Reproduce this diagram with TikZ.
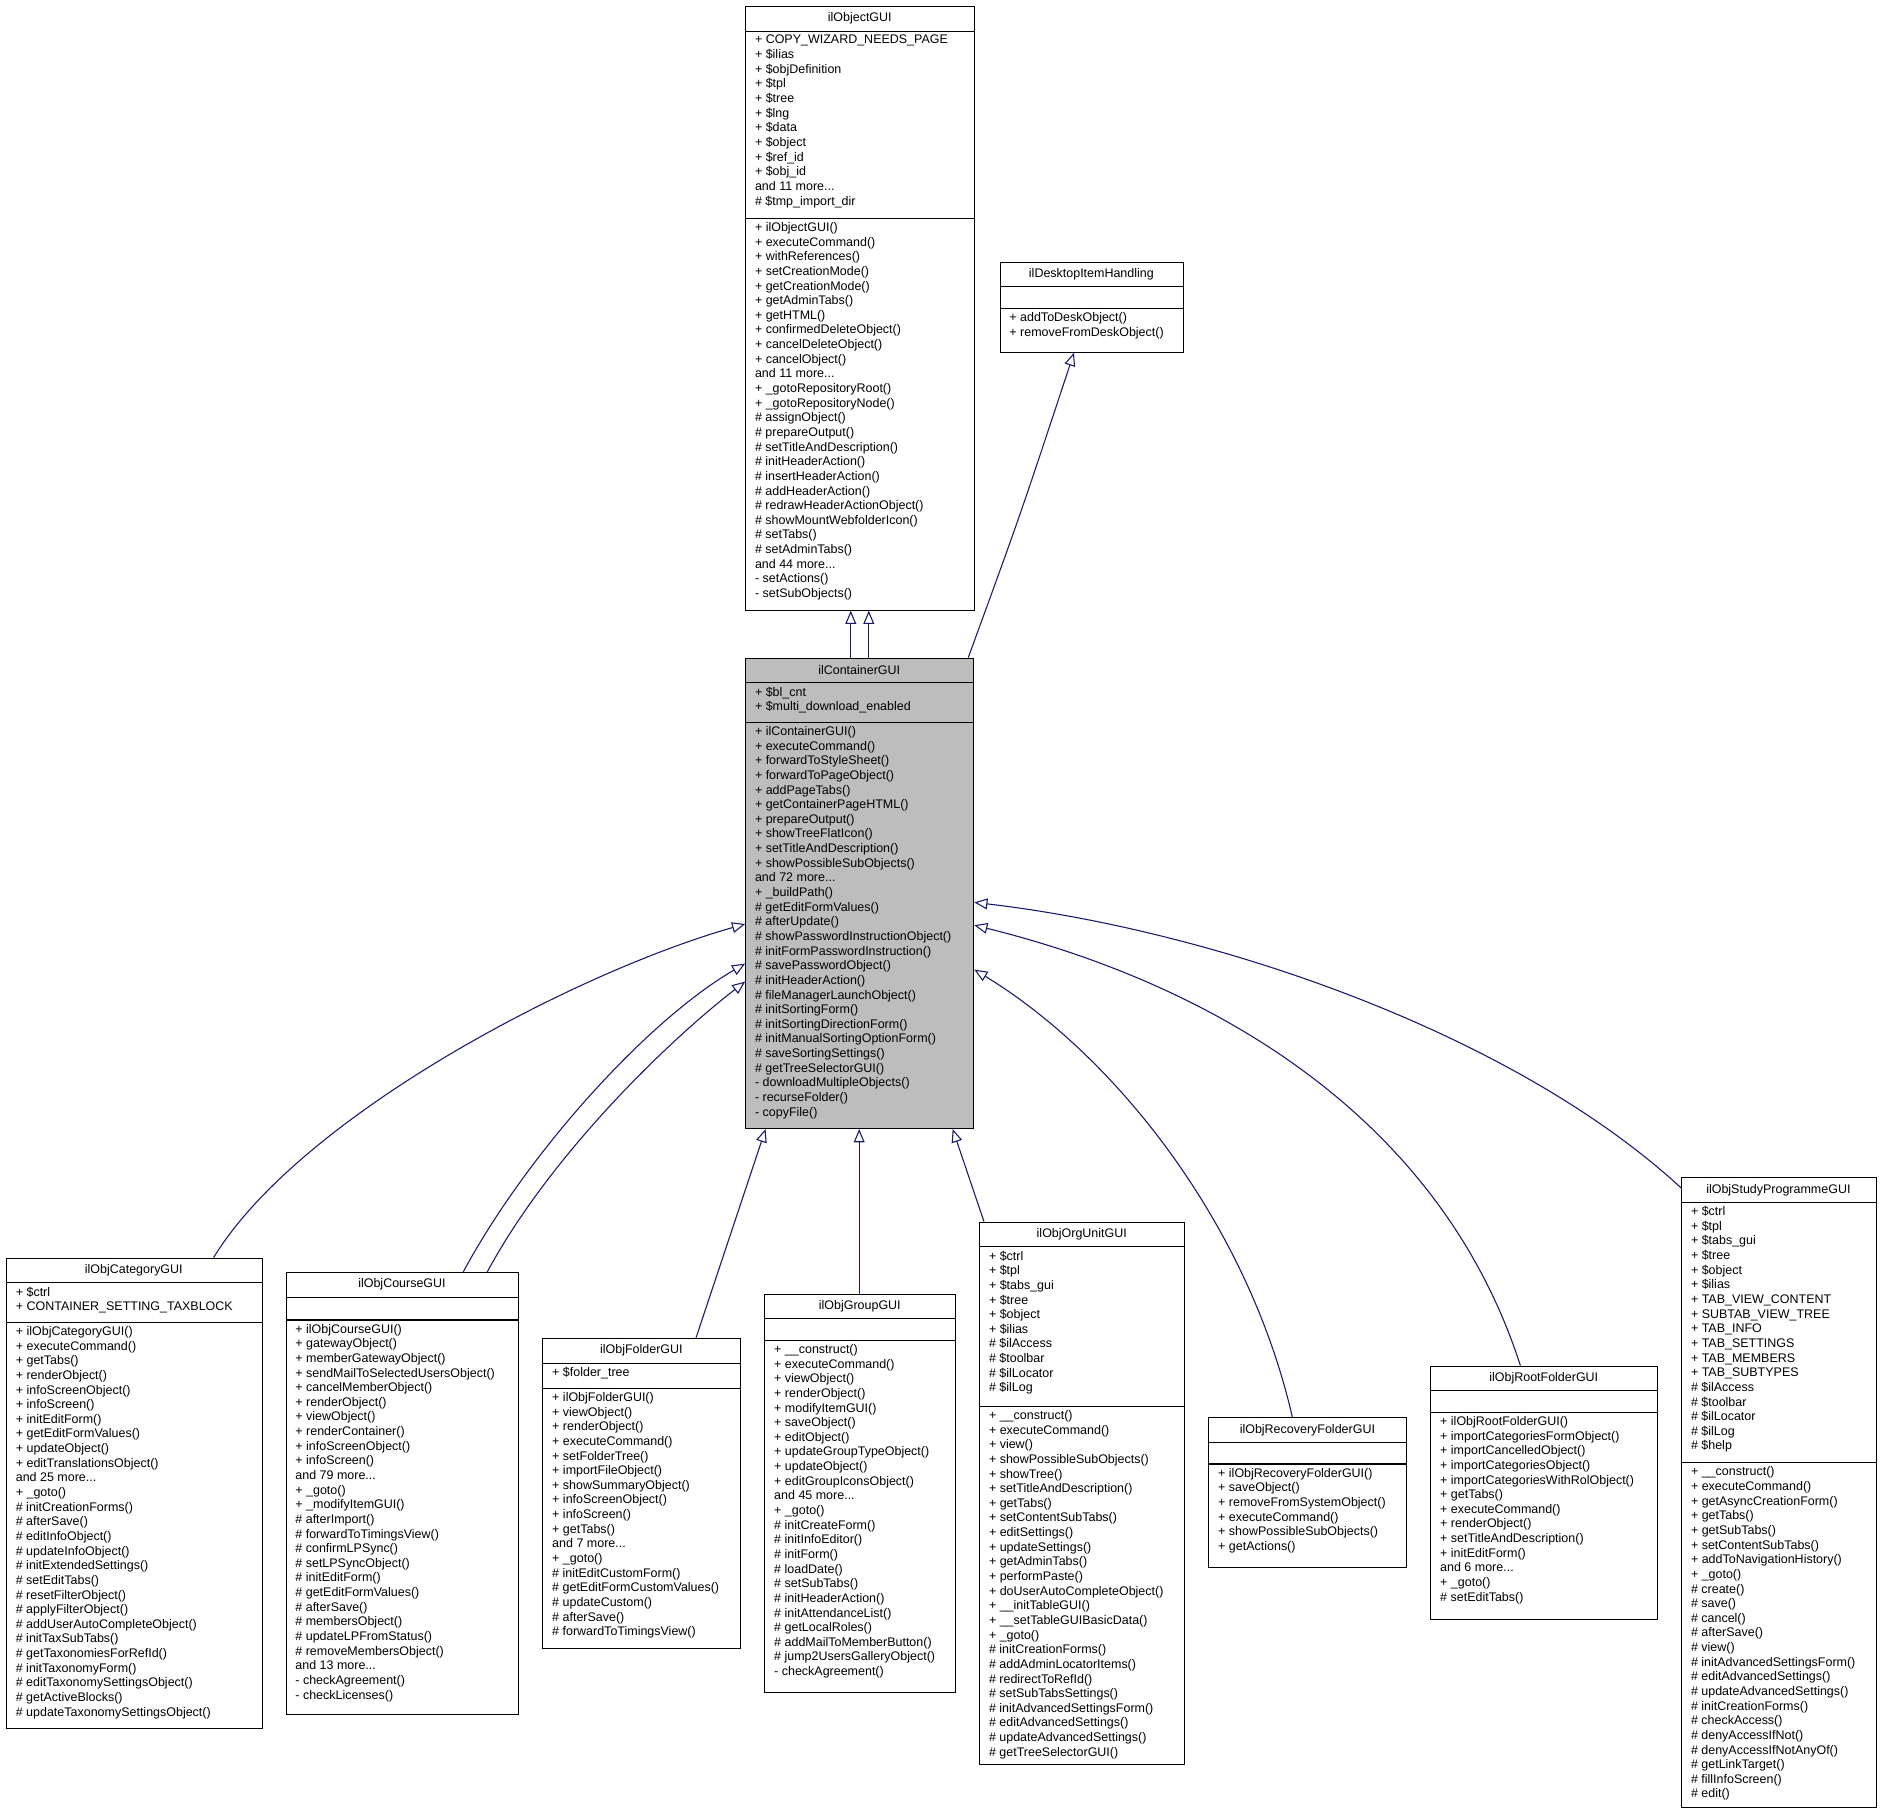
\documentclass[tikz,border=0pt]{standalone}
\usepackage{fontspec}
\setmainfont{Liberation Sans}
\usetikzlibrary{arrows.meta}
\definecolor{edgeblue}{HTML}{191970}
\newcommand{\boxfill}{white}
% #1 name, #2 x1, #3 y1, #4 x2, #5 y2, #6 attr bottom, #7 title, #8 attrs, #9 methods
\newcommand{\classbox}[9]{%
  \node[classframe, fill=\boxfill, anchor=north west, minimum width={(#4-#2)*1pt},
        minimum height={(#5-#3)*1pt}] (#1) at (#2,#3) {};
  \node[classtitle] (#1title) at ({(#2+#4)/2},{#3+10.5}) {#7};
  \draw[classline] (#2,{#3+21}) -- (#4,{#3+21});
  \draw[classline] (#2,#6) -- (#4,#6);
  \node[classtext] (#1attr) at (#2,{#3+21}) {#8};
  \node[classtext] (#1meth) at (#2,#6) {#9};
}
\tikzset{
  classframe/.style={draw, line width=0.9pt, inner sep=0pt},
  classline/.style={line width=0.9pt},
  classtitle/.style={inner sep=0pt, font=\fontsize{10.4}{12.2}\selectfont},
  classtext/.style={anchor=north west, align=left, inner xsep=8pt, inner ysep=3.2pt,
    font=\fontsize{10.4}{12.2}\selectfont},
  inherit/.style={draw=edgeblue, line width=0.9pt,
    -{Triangle[open, length=11pt, width=9pt, fill=white]}}
}
\begin{document}
\begin{tikzpicture}[x=1pt, y=-1pt]
  \useasboundingbox (0,0) rectangle (1571.7,1516.7);
  \classbox{objgui}{621}{5}{812}{508}{182}{ilObjectGUI}
    {+ COPY\_WIZARD\_NEEDS\_PAGE\\+ \$ilias\\+ \$objDefinition\\+ \$tpl\\+ \$tree\\+ \$lng\\+ \$data\\+ \$object\\+ \$ref\_id\\+ \$obj\_id\\and 11 more...\\\# \$tmp\_import\_dir}
    {+ ilObjectGUI()\\+ executeCommand()\\+ withReferences()\\+ setCreationMode()\\+ getCreationMode()\\+ getAdminTabs()\\+ getHTML()\\+ confirmedDeleteObject()\\+ cancelDeleteObject()\\+ cancelObject()\\and 11 more...\\+ \_gotoRepositoryRoot()\\+ \_gotoRepositoryNode()\\\# assignObject()\\\# prepareOutput()\\\# setTitleAndDescription()\\\# initHeaderAction()\\\# insertHeaderAction()\\\# addHeaderAction()\\\# redrawHeaderActionObject()\\\# showMountWebfolderIcon()\\\# setTabs()\\\# setAdminTabs()\\and 44 more...\\- setActions()\\- setSubObjects()}
  \classbox{desk}{833}{218}{986}{293}{257}{ilDesktopItemHandling}
    {}
    {+ addToDeskObject()\\+ removeFromDeskObject()}
  \renewcommand{\boxfill}{black!26}
  \classbox{cont}{621}{548}{811}{940}{602}{ilContainerGUI}
    {+ \$bl\_cnt\\+ \$multi\_download\_enabled}
    {+ ilContainerGUI()\\+ executeCommand()\\+ forwardToStyleSheet()\\+ forwardToPageObject()\\+ addPageTabs()\\+ getContainerPageHTML()\\+ prepareOutput()\\+ showTreeFlatIcon()\\+ setTitleAndDescription()\\+ showPossibleSubObjects()\\and 72 more...\\+ \_buildPath()\\\# getEditFormValues()\\\# afterUpdate()\\\# showPasswordInstructionObject()\\\# initFormPasswordInstruction()\\\# savePasswordObject()\\\# initHeaderAction()\\\# fileManagerLaunchObject()\\\# initSortingForm()\\\# initSortingDirectionForm()\\\# initManualSortingOptionForm()\\\# saveSortingSettings()\\\# getTreeSelectorGUI()\\- downloadMultipleObjects()\\- recurseFolder()\\- copyFile()}
  \renewcommand{\boxfill}{white}
  \classbox{cat}{5}{1048}{218}{1440}{1102}{ilObjCategoryGUI}
    {+ \$ctrl\\+ CONTAINER\_SETTING\_TAXBLOCK}
    {+ ilObjCategoryGUI()\\+ executeCommand()\\+ getTabs()\\+ renderObject()\\+ infoScreenObject()\\+ infoScreen()\\+ initEditForm()\\+ getEditFormValues()\\+ updateObject()\\+ editTranslationsObject()\\and 25 more...\\+ \_goto()\\\# initCreationForms()\\\# afterSave()\\\# editInfoObject()\\\# updateInfoObject()\\\# initExtendedSettings()\\\# setEditTabs()\\\# resetFilterObject()\\\# applyFilterObject()\\\# addUserAutoCompleteObject()\\\# initTaxSubTabs()\\\# getTaxonomiesForRefId()\\\# initTaxonomyForm()\\\# editTaxonomySettingsObject()\\\# getActiveBlocks()\\\# updateTaxonomySettingsObject()}
  \classbox{course}{238}{1060}{432}{1428}{1100}{ilObjCourseGUI}
    {}
    {+ ilObjCourseGUI()\\+ gatewayObject()\\+ memberGatewayObject()\\+ sendMailToSelectedUsersObject()\\+ cancelMemberObject()\\+ renderObject()\\+ viewObject()\\+ renderContainer()\\+ infoScreenObject()\\+ infoScreen()\\and 79 more...\\+ \_goto()\\+ \_modifyItemGUI()\\\# afterImport()\\\# forwardToTimingsView()\\\# confirmLPSync()\\\# setLPSyncObject()\\\# initEditForm()\\\# getEditFormValues()\\\# afterSave()\\\# membersObject()\\\# updateLPFromStatus()\\\# removeMembersObject()\\and 13 more...\\- checkAgreement()\\- checkLicenses()}
  \classbox{folder}{452}{1115}{617}{1373}{1157}{ilObjFolderGUI}
    {+ \$folder\_tree}
    {+ ilObjFolderGUI()\\+ viewObject()\\+ renderObject()\\+ executeCommand()\\+ setFolderTree()\\+ importFileObject()\\+ showSummaryObject()\\+ infoScreenObject()\\+ infoScreen()\\+ getTabs()\\and 7 more...\\+ \_goto()\\\# initEditCustomForm()\\\# getEditFormCustomValues()\\\# updateCustom()\\\# afterSave()\\\# forwardToTimingsView()}
  \classbox{group}{637}{1078}{796}{1410}{1117}{ilObjGroupGUI}
    {}
    {+ \_\_construct()\\+ executeCommand()\\+ viewObject()\\+ renderObject()\\+ modifyItemGUI()\\+ saveObject()\\+ editObject()\\+ updateGroupTypeObject()\\+ updateObject()\\+ editGroupIconsObject()\\and 45 more...\\+ \_goto()\\\# initCreateForm()\\\# initInfoEditor()\\\# initForm()\\\# loadDate()\\\# setSubTabs()\\\# initHeaderAction()\\\# initAttendanceList()\\\# getLocalRoles()\\\# addMailToMemberButton()\\\# jump2UsersGalleryObject()\\- checkAgreement()}
  \classbox{orgunit}{816}{1018}{987}{1470}{1172}{ilObjOrgUnitGUI}
    {+ \$ctrl\\+ \$tpl\\+ \$tabs\_gui\\+ \$tree\\+ \$object\\+ \$ilias\\\# \$ilAccess\\\# \$toolbar\\\# \$ilLocator\\\# \$ilLog}
    {+ \_\_construct()\\+ executeCommand()\\+ view()\\+ showPossibleSubObjects()\\+ showTree()\\+ setTitleAndDescription()\\+ getTabs()\\+ setContentSubTabs()\\+ editSettings()\\+ updateSettings()\\+ getAdminTabs()\\+ performPaste()\\+ doUserAutoCompleteObject()\\+ \_\_initTableGUI()\\+ \_\_setTableGUIBasicData()\\+ \_goto()\\\# initCreationForms()\\\# addAdminLocatorItems()\\\# redirectToRefId()\\\# setSubTabsSettings()\\\# initAdvancedSettingsForm()\\\# editAdvancedSettings()\\\# updateAdvancedSettings()\\\# getTreeSelectorGUI()}
  \classbox{recovery}{1007}{1181}{1172}{1306}{1220}{ilObjRecoveryFolderGUI}
    {}
    {+ ilObjRecoveryFolderGUI()\\+ saveObject()\\+ removeFromSystemObject()\\+ executeCommand()\\+ showPossibleSubObjects()\\+ getActions()}
  \classbox{root}{1192}{1138}{1381}{1349}{1177}{ilObjRootFolderGUI}
    {}
    {+ ilObjRootFolderGUI()\\+ importCategoriesFormObject()\\+ importCancelledObject()\\+ importCategoriesObject()\\+ importCategoriesWithRolObject()\\+ getTabs()\\+ executeCommand()\\+ renderObject()\\+ setTitleAndDescription()\\+ initEditForm()\\and 6 more...\\+ \_goto()\\\# setEditTabs()}
  \classbox{study}{1401}{981}{1563}{1506}{1219}{ilObjStudyProgrammeGUI}
    {+ \$ctrl\\+ \$tpl\\+ \$tabs\_gui\\+ \$tree\\+ \$object\\+ \$ilias\\+ TAB\_VIEW\_CONTENT\\+ SUBTAB\_VIEW\_TREE\\+ TAB\_INFO\\+ TAB\_SETTINGS\\+ TAB\_MEMBERS\\+ TAB\_SUBTYPES\\\# \$ilAccess\\\# \$toolbar\\\# \$ilLocator\\\# \$ilLog\\\# \$help}
    {+ \_\_construct()\\+ executeCommand()\\+ getAsyncCreationForm()\\+ getTabs()\\+ getSubTabs()\\+ setContentSubTabs()\\+ addToNavigationHistory()\\+ \_goto()\\\# create()\\\# save()\\\# cancel()\\\# afterSave()\\\# view()\\\# initAdvancedSettingsForm()\\\# editAdvancedSettings()\\\# updateAdvancedSettings()\\\# initCreationForms()\\\# checkAccess()\\\# denyAccessIfNot()\\\# denyAccessIfNotAnyOf()\\\# getLinkTarget()\\\# fillInfoScreen()\\\# edit()}
  % generalizations
  \draw[inherit] ([xshift=88pt]cont.north west) -- ([xshift=88pt]objgui.south west);
  \draw[inherit] ([xshift=103pt]cont.north west) -- ([xshift=103pt]objgui.south west);
  \draw[inherit] ([xshift=-5pt]cont.north east) .. controls (850,430) .. ([xshift=62pt]desk.south west);
  \draw[inherit] ([xshift=173pt]cat.north west) .. controls (250,930) and (480,810) .. ([yshift=-222pt]cont.north west);
  \draw[inherit] ([xshift=148pt]course.north west) .. controls (440,960) and (540,850) .. ([yshift=-255pt]cont.north west);
  \draw[inherit] ([xshift=168pt]course.north west) .. controls (460,960) and (560,865) .. ([yshift=-270pt]cont.north west);
  \draw[inherit] ([xshift=128pt]folder.north west) -- ([xshift=17pt]cont.south west);
  \draw[inherit] ([xshift=79pt]group.north west) -- ([xshift=95pt]cont.south west);
  \draw[inherit] ([xshift=4pt]orgunit.north west) -- ([xshift=-18pt]cont.south east);
  \draw[inherit] ([xshift=70pt]recovery.north west) .. controls (1040,1020) and (930,880) .. ([yshift=-260pt]cont.north east);
  \draw[inherit] ([xshift=75pt]root.north west) .. controls (1200,930) and (1010,820) .. ([yshift=-223pt]cont.north east);
  \draw[inherit] ([yshift=-9pt]study.north west) .. controls (1260,860) and (1010,775) .. ([yshift=-204pt]cont.north east);
\end{tikzpicture}
\end{document}
